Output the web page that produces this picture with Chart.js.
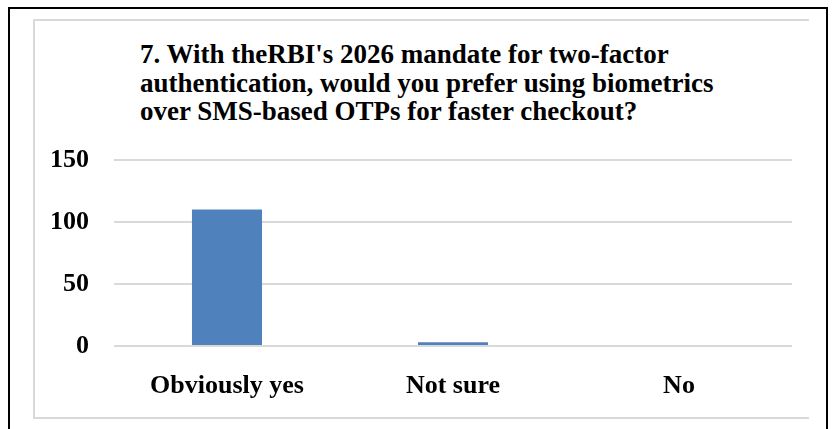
<!DOCTYPE html>
<html>
<head>
<meta charset="utf-8">
<script src="https://cdn.jsdelivr.net/npm/chart.js@4"></script>
<style>
  html, body { margin: 0; padding: 0; background: #fff; }
  #page { position: relative; width: 834px; height: 429px; overflow: hidden; }
  .outer { position: absolute; left: 8px; top: 7px; width: 816px; height: 440px; border: 2px solid #000; }
  .inner { position: absolute; left: 33px; top: 19px; width: 774px; height: 396px;
           border-top: 2px solid #d9d9d9; border-left: 2px solid #d9d9d9; border-bottom: 2px solid #d9d9d9; }
  #title { position: absolute; left: 140px; top: 40px; font: bold 27px "Liberation Serif", serif;
           line-height: 28.5px; color: #000; white-space: pre; }
  canvas { position: absolute; left: 0; top: 0; }
</style>
</head>
<body>
<div id="page">
  <div class="outer"></div>
  <div class="inner"></div>
  <div id="title"></div>
  <canvas id="chart" width="834" height="429"></canvas>
</div>
<script>
// survey question 7
const titleLines = [
  "7. With theRBI's 2026 mandate for two-factor",
  "authentication, would you prefer using biometrics",
  "over SMS-based OTPs for faster checkout?"
];
const categories = ['Obviously yes', 'Not sure', 'No'];
const responses = [110, 3, 0];
const yTicks = [0, 50, 100, 150];

document.getElementById('title').textContent = titleLines.join('\n');

const labelFont = { family: '"Liberation Serif", serif', size: 26, weight: 'bold' };

new Chart(document.getElementById('chart').getContext('2d'), {
  type: 'bar',
  data: {
    labels: categories,
    datasets: [{
      data: responses,
      backgroundColor: '#4f81bd',
      categoryPercentage: 1,
      barPercentage: 0.31
    }]
  },
  options: {
    responsive: false,
    animation: false,
    layout: { padding: { top: 160, right: 42, bottom: 0, left: 0 } },
    plugins: { legend: { display: false }, tooltip: { enabled: false } },
    scales: {
      x: {
        grid: { display: false, drawTicks: false },
        border: { display: false },
        ticks: { color: '#000', font: labelFont, padding: 25, maxRotation: 0 },
        afterFit: (axis) => { axis.height = 83; }
      },
      y: {
        min: yTicks[0],
        max: yTicks[yTicks.length - 1],
        ticks: { stepSize: 50, color: '#000', font: labelFont, padding: 25 },
        grid: { color: '#d9d9d9', lineWidth: 2, drawTicks: false },
        border: { display: false },
        afterFit: (axis) => { axis.width = 114; }
      }
    }
  }
});
</script>
</body>
</html>
